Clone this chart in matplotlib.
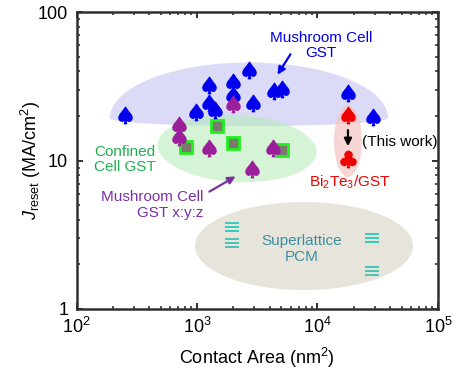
import numpy as np
import matplotlib
matplotlib.use('Agg')
import matplotlib.pyplot as plt
from matplotlib.path import Path
from matplotlib.textpath import TextPath
from matplotlib.font_manager import FontProperties

plt.rcParams['font.family'] = ['Liberation Sans', 'DejaVu Sans']
plt.rcParams['mathtext.fontset'] = 'custom'
plt.rcParams['mathtext.rm'] = 'Liberation Sans'
plt.rcParams['mathtext.it'] = 'Liberation Sans:italic'

# mushroom cell GST
blue_area = [253, 981, 1258, 1258, 1410, 1990, 1990, 2701, 2915, 4355, 5074, 17900, 28880]
blue_j = [20.4, 21.3, 32.4, 24.5, 22.0, 34.0, 27.8, 40.9, 24.5, 29.5, 30.5, 28.6, 19.7]

# mushroom cell GST x:y:z
purple_area = [1990, 709, 709, 1258, 4272, 2860]
purple_j = [24.1, 17.4, 14.5, 12.2, 12.2, 8.8]

# confined cell GST
conf_area = [1466, 810, 1990, 5074]
conf_j = [17.2, 12.4, 13.2, 11.8]

# this work: GST alone and Bi2Te3/GST
gst_area = [17900]
gst_j = [20.4]
bite_area = [17900]
bite_j = [10.3]

# superlattice PCM
sl_area = [1970, 28600]
sl_j = [3.57, 3.01]
sl2_area = [1970, 28600]
sl2_j = [2.79, 1.80]


def glyph_marker(ch):
    tp = TextPath((0, 0), ch, size=1, prop=FontProperties(family='DejaVu Sans'))
    ext = tp.get_extents()
    c = np.array([(ext.x0 + ext.x1) / 2, (ext.y0 + ext.y1) / 2])
    return Path(tp.vertices - c, tp.codes)


spade = glyph_marker('\u2660')
club = glyph_marker('\u2663')
triple = Path([(-1, -0.6), (1, -0.6), (-1, 0), (1, 0), (-1, 0.6), (1, 0.6)],
              [Path.MOVETO, Path.LINETO] * 3)

KY = 148.25 / 120.5  # pixels per decade y / x


def blob(ax, xc, yc, rx, ry_top, ry_bot=None, ang=0, **kw):
    # ellipse drawn in log space, rx / ry in decades
    if ry_bot is None:
        ry_bot = ry_top
    t = np.linspace(0, 2 * np.pi, 300)
    u = rx * np.cos(t)
    v = np.where(np.sin(t) >= 0, ry_top, ry_bot) * np.sin(t) * KY
    a = np.deg2rad(ang)
    uu = u * np.cos(a) - v * np.sin(a)
    vv = (u * np.sin(a) + v * np.cos(a)) / KY
    ax.fill(10 ** (np.log10(xc) + uu), 10 ** (np.log10(yc) + vv), lw=0, **kw)


fig = plt.figure(figsize=(4.59, 3.72), dpi=100)
ax = fig.add_axes([0.1667, 0.1694, 0.7875, 0.797])
ax.set_xscale('log')
ax.set_yscale('log')
ax.set_xlim(1e2, 1e5)
ax.set_ylim(1, 100)

blob(ax, 2700, 19.4, 1.154, 0.375, 0.054, color='#c4c4f4', alpha=0.6, zorder=1)
blob(ax, 2148, 12.1, 0.66, 0.226, ang=-3, color='#b4eab4', alpha=0.55, zorder=1.1)
blob(ax, 17900, 13.6, 0.116, 0.243, color='#f6c4c4', alpha=0.7, zorder=1.2)
blob(ax, 7730, 2.66, 0.905, 0.297, color='#e7e5db', zorder=1)

ms = 14.5
ax.plot(conf_area, conf_j, ls='none', marker='s', ms=8.5, mfc='#7a7a6c',
        mec='#22ee22', mew=2, zorder=3)
ax.plot(blue_area, blue_j, ls='none', marker=spade, ms=ms, color='#0000ee', zorder=4)
ax.plot(purple_area, purple_j, ls='none', marker=spade, ms=ms, color='#9b1f9b', zorder=5)
ax.plot(gst_area, gst_j, ls='none', marker=spade, ms=ms, color='#ee0000', zorder=5)
ax.plot(bite_area, bite_j, ls='none', marker=club, ms=ms, color='#ee0000', zorder=5)
ax.plot(sl_area, sl_j, ls='none', marker=triple, ms=9.5, mfc='none', mec='#18c6b6', mew=1.2, zorder=3)
ax.plot(sl2_area, sl2_j, ls='none', marker=triple, ms=9.5, mfc='none', mec='#30bab2', mew=1.2, zorder=3)

# labels and arrows
ax.annotate('', xy=(4524, 36.7), xytext=(6140, 54.2),
            arrowprops=dict(arrowstyle='-|>', color='#0000ee', lw=1.6, mutation_scale=11))
ax.annotate('', xy=(2188, 8.01), xytext=(1211, 6.06),
            arrowprops=dict(arrowstyle='-|>', color='#7a30a0', lw=1.6, mutation_scale=11))
ax.annotate('', xy=(17900, 12.0), xytext=(17900, 16.8),
            arrowprops=dict(arrowstyle='-|>', color='black', lw=1.6, mutation_scale=11))

ax.text(10700, 59.9, 'Mushroom Cell\nGST', color='#0000ee', fontsize=11,
        ha='center', va='center', linespacing=1.1)
ax.text(140, 10.2, 'Confined\nCell GST', color='#20b050', fontsize=11,
        ha='left', va='center', linespacing=1.1)
ax.text(1121, 5.03, 'Mushroom Cell\nGST x:y:z', color='#7a30a0', fontsize=11,
        ha='right', va='center', multialignment='right', linespacing=1.1)
ax.text(23400, 13.4, '(This work)', color='black', fontsize=11, ha='left', va='center')
ax.text(18600, 7.19, r'Bi$_2$Te$_3$/GST', color='#ee0000', fontsize=11,
        ha='center', va='center')
ax.text(7430, 2.54, 'Superlattice\nPCM', color='#3a8fa0', fontsize=11,
        ha='center', va='center', linespacing=1.1)

ax.set_xlabel(r'Contact Area (nm$^2$)', fontsize=13, labelpad=6)
ax.set_ylabel(r'$J_{\rm reset}$ (MA/cm$^2$)', fontsize=13, labelpad=-4)
ax.set_yticks([1, 10, 100])
ax.set_yticklabels(['1', '10', '100'])

for s in ax.spines.values():
    s.set_linewidth(1.8)
    s.set_color('#303030')
ax.tick_params(which='both', direction='in', top=True, right=True, color='#303030',
               labelsize=13)
ax.tick_params(which='major', length=4, width=1.4, pad=6)
ax.tick_params(which='minor', length=2.5, width=1.2)

fig.savefig('out.png', dpi=100)
